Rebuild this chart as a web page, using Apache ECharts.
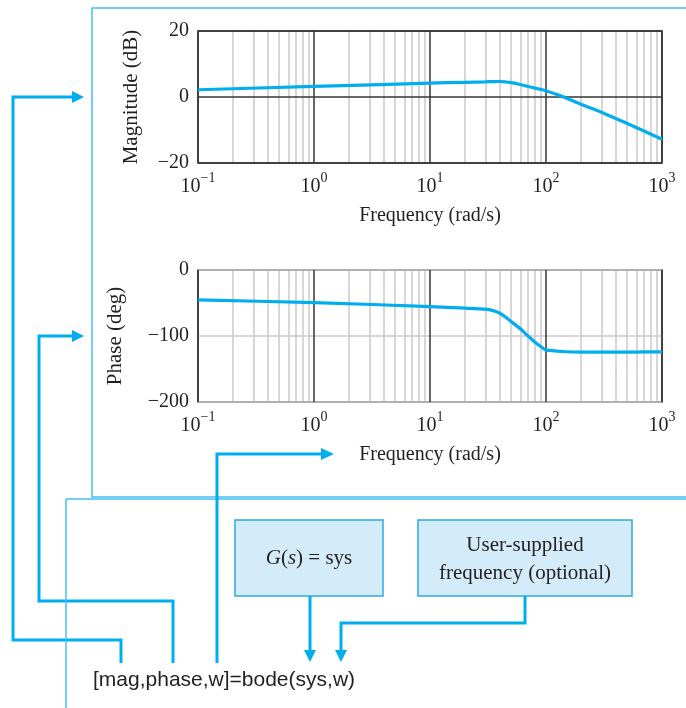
<!DOCTYPE html>
<html><head><meta charset="utf-8">
<script src="https://cdn.jsdelivr.net/npm/echarts@6/dist/echarts.min.js"></script>
<style>html,body{margin:0;padding:0;background:#fff}#c{width:686px;height:708px}</style>
</head><body><div id="c"></div>
<script>
// ---- data ----
const freq        = [0.1, 1, 10, 20, 30, 35, 40, 45, 50, 60, 70, 80, 90, 100, 140, 200, 300, 500, 700, 1000];
const magnitudeDb = [2.2, 3.2, 4.2, 4.45, 4.6, 4.68, 4.7, 4.55, 4.35, 3.8, 3.2, 2.7, 2.3, 1.9, 0.1, -2.2, -4.6, -8.0, -10.3, -12.8];
const phaseDeg    = [-45.3, -49.4, -55.4, -57.8, -59.4, -61.5, -65.5, -71.5, -78, -89, -100, -109, -116, -121, -123.5, -124.3, -124.5, -124.4, -124.2, -124];
const decadeTicks = [0.1, 1, 10, 100, 1000];
const minorTicks  = [0.2,0.3,0.4,0.5,0.6,0.7,0.8,0.9, 2,3,4,5,6,7,8,9, 20,30,40,50,60,70,80,90, 200,300,400,500,600,700,800,900];
const magTicks    = [-20, 0, 20];
const phaseTicks  = [-200, -100, 0];
const xAxisTitle  = 'Frequency (rad/s)';
const magTitle    = 'Magnitude (dB)';
const phaseTitle  = 'Phase (deg)';
const codeText    = '[mag,phase,w]=bode(sys,w)';

// ---- styling ----
const SERIF = 'Liberation Serif';
const INK = '#231F20';
const BLUE = '#00AEEF';
const PANEL = '#45C0F0';
const DARK = '#353535';
const LIGHT = '#cacaca';

const chart = echarts.init(document.getElementById('c'), null, {renderer: 'canvas'});

function xLabel(v) {
  const e = Math.round(Math.log10(v));
  return '{b|10}{s|' + (e < 0 ? '\u2212' + (-e) : e) + '}';
}
function yLabel(v) { return v < 0 ? '\u2212' + Math.abs(v) : String(v); }

const xRich = {
  b: {fontSize: 20, fontFamily: SERIF, color: INK, lineHeight: 26, verticalAlign: 'bottom'},
  s: {fontSize: 14, fontFamily: SERIF, color: INK, verticalAlign: 'top', lineHeight: 14}
};

function makeX(i) {
  return {
    type: 'log', logBase: 10, gridIndex: i, min: decadeTicks[0], max: decadeTicks[decadeTicks.length - 1],
    z: 1,
    axisLine: {show: false}, axisTick: {show: false},
    splitLine: {show: true, lineStyle: {color: DARK, width: 1.5}},
    axisLabel: {formatter: xLabel, rich: xRich, margin: 8},
    name: xAxisTitle, nameLocation: 'middle', nameGap: 43,
    nameTextStyle: {fontSize: 20, fontFamily: SERIF, color: INK}
  };
}
function makeY(i, ticks, title, gridColor, gap) {
  return {
    type: 'value', gridIndex: i, min: ticks[0], max: ticks[ticks.length - 1], interval: ticks[1] - ticks[0],
    z: 1,
    axisLine: {show: false}, axisTick: {show: false},
    splitLine: {show: true, lineStyle: {color: gridColor, width: 1.5}},
    axisLabel: {formatter: yLabel, fontSize: 20, fontFamily: SERIF, color: INK, margin: 9},
    name: title, nameLocation: 'middle', nameRotate: 90, nameGap: gap,
    nameTextStyle: {fontSize: 21, fontFamily: SERIF, color: INK}
  };
}
function minorSeries(i, ys) {
  return {
    type: 'line', xAxisIndex: i, yAxisIndex: i, z: 0, silent: true,
    data: freq.map((f, k) => [f, ys[k]]), showSymbol: false, lineStyle: {opacity: 0},
    markLine: {
      silent: true, symbol: 'none', animation: false, label: {show: false}, z: 0,
      lineStyle: {color: LIGHT, width: 1.5, type: 'solid'},
      data: minorTicks.map(v => ({xAxis: v}))
    }
  };
}
function curve(i, ys) {
  return {
    type: 'line', xAxisIndex: i, yAxisIndex: i, z: 3,
    data: freq.map((f, k) => [f, ys[k]]), showSymbol: false, smooth: 0.2,
    lineStyle: {color: BLUE, width: 3.2}
  };
}

function pl(points, w, c) {
  return {type: 'polyline', silent: true, shape: {points: points}, style: {stroke: c || BLUE, lineWidth: w || 3, fill: null}};
}
function tri(points) {
  return {type: 'polygon', silent: true, shape: {points: points}, style: {fill: BLUE}};
}
function txt(x, y, text, extra) {
  return {type: 'text', silent: true, x: x, y: y,
    style: Object.assign({text: text, fontSize: 21, fontFamily: SERIF, fill: INK, align: 'center', verticalAlign: 'middle'}, extra || {})};
}

const graphics = [
  pl([[686, 8], [92, 8], [92, 497], [686, 497]], 1.5, PANEL),
  pl([[686, 499], [66, 499]], 1.5, PANEL),
  // boxes
  {type: 'rect', silent: true, shape: {x: 235, y: 520, width: 148, height: 76}, style: {fill: '#D4ECF9', stroke: '#2AAAE2', lineWidth: 1.5}},
  {type: 'rect', silent: true, shape: {x: 418, y: 520, width: 214, height: 76}, style: {fill: '#D4ECF9', stroke: '#2AAAE2', lineWidth: 1.5}},
  // magnitude output
  pl([[121, 663], [121, 640], [13, 640], [13, 97], [73, 97]]),
  tri([[72, 91], [84, 97], [72, 103]]),
  // phase output
  pl([[173, 663], [173, 601], [39, 601], [39, 336], [73, 336]]),
  tri([[72, 330], [84, 336], [72, 342]]),
  // frequency output
  pl([[217, 663], [217, 454], [322, 454]]),
  tri([[321, 448], [334, 454], [321, 460]]),
  // inputs
  pl([[310, 596], [310, 651]]),
  tri([[304, 650], [310, 662], [316, 650]]),
  pl([[525, 596], [525, 623], [341, 623], [341, 651]]),
  tri([[335, 650], [341, 662], [347, 650]]),
  pl([[66, 499], [66, 708]], 1.5, PANEL),
  // texts
  {type: 'text', silent: true, x: 309, y: 558, style: {
    text: '{i|G}{n|(}{i|s}{n|) = sys}', align: 'center', verticalAlign: 'middle',
    rich: {i: {fontSize: 21, fontFamily: SERIF, fontStyle: 'italic', fill: INK, color: INK},
           n: {fontSize: 21, fontFamily: SERIF, fill: INK, color: INK}}}},
  txt(525, 559, 'User-supplied\nfrequency (optional)', {lineHeight: 28}),
  txt(93, 680, codeText, {fontFamily: 'Liberation Sans', fontSize: 21, align: 'left'})
];

chart.setOption({
  animation: false,
  backgroundColor: '#fff',
  grid: [
    {left: 198, top: 31, width: 464, height: 132, show: true, borderColor: DARK, borderWidth: 1.5, backgroundColor: 'transparent', z: 1},
    {left: 198, top: 270, width: 464, height: 132, show: true, borderColor: DARK, borderWidth: 1.5, backgroundColor: 'transparent', z: 1}
  ],
  xAxis: [makeX(0), makeX(1)],
  yAxis: [makeY(0, magTicks, magTitle, DARK, 56), makeY(1, phaseTicks, phaseTitle, LIGHT, 72)],
  series: [minorSeries(0, magnitudeDb), minorSeries(1, phaseDeg), curve(0, magnitudeDb), curve(1, phaseDeg)],
  graphic: graphics
});
</script>
</body></html>
